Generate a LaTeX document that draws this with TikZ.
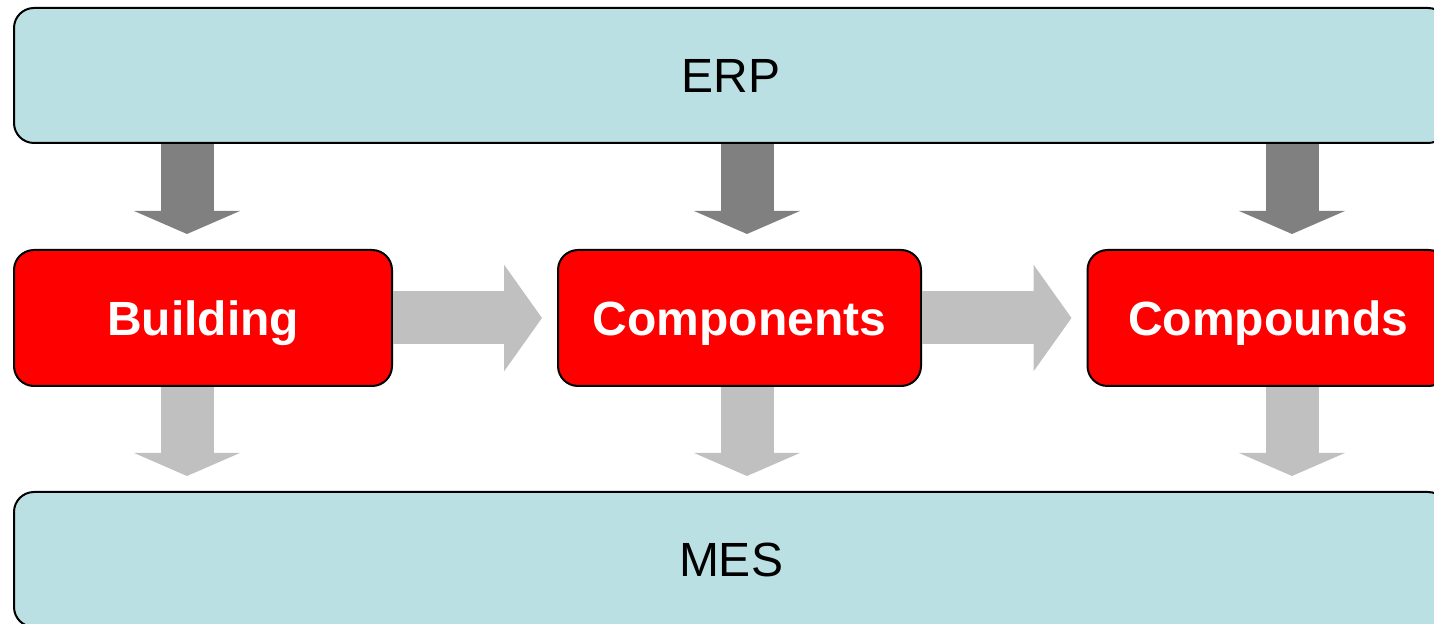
\documentclass[tikz,border=0pt]{standalone}
\usepackage{fontspec}
\setmainfont{Liberation Sans}
\usetikzlibrary{arrows.meta,positioning}
\definecolor{sysblue}{RGB}{186,224,227}
\definecolor{stagered}{RGB}{255,0,0}
\definecolor{feedgray}{RGB}{128,128,128}
\definecolor{flowgray}{RGB}{192,192,192}

\begin{document}
\begin{tikzpicture}[x=0.5pt,y=-0.5pt,
  sysbox/.style={draw=black,line width=1pt,fill=sysblue,rounded corners=10pt,
    minimum width=717pt,minimum height=67.5pt,inner sep=0pt,
    text height=17.2pt,text depth=0pt,font=\fontsize{24}{28}\selectfont},
  stagebox/.style={draw=black,line width=1pt,fill=stagered,rounded corners=10pt,
    minimum height=68pt,inner sep=0pt,text=white,
    text height=17.2pt,text depth=0pt,font=\fontsize{24}{28}\selectfont\bfseries},
  feedarrow/.style={feedgray,line width=26.5pt,shorten >=7.5pt,
    -{Triangle[length=11.5pt,width=52.5pt]}},
  reportarrow/.style={flowgray,line width=26.5pt,shorten >=7.5pt,
    -{Triangle[length=11.5pt,width=52.5pt]}},
  flowarrow/.style={flowgray,line width=26.5pt,shorten >=7.5pt,
    -{Triangle[length=19pt,width=52.5pt]}}]
  \useasboundingbox (0,0) rectangle (1434,624);
  \clip (0,0) rectangle (1434,624);

  % planning and execution layers
  \node[sysbox] (erp) at (731,75.5) {ERP};
  \node[sysbox] (mes) at (731,559.5) {MES};

  % production stages
  \node[stagebox,minimum width=189pt]   (bld) at (203,318)   {Building};
  \node[stagebox,minimum width=181.5pt] (cmp) at (739.5,318) {Components};
  \node[stagebox,minimum width=180.5pt] (cpd) at (1268,318)  {Compounds};

  \draw[flowarrow] (bld.east) -- (cmp.west);
  \draw[flowarrow] (cmp.east) -- (cpd.west);

  \foreach \n/\dx in {bld/-8pt,cmp/3.75pt,cpd/12pt} {
    \draw[feedarrow] ([xshift=\dx]\n.north |- erp.south) -- ([xshift=\dx]\n.north);
    \draw[reportarrow] ([xshift=\dx]\n.south) -- ([xshift=\dx]\n.south |- mes.north);
  }
\end{tikzpicture}
\end{document}
